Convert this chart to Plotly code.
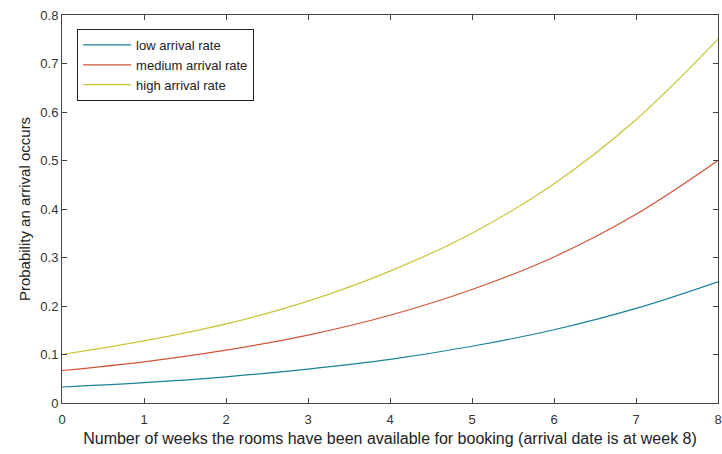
import plotly.graph_objects as go

weeks = [0, 1, 2, 3, 4, 5, 6, 7, 8]
low_rate = [0.033, 0.042, 0.054, 0.070, 0.090, 0.117, 0.151, 0.195, 0.250]
medium_rate = [0.067, 0.085, 0.109, 0.140, 0.181, 0.234, 0.301, 0.389, 0.500]
high_rate = [0.100, 0.128, 0.163, 0.210, 0.272, 0.350, 0.452, 0.584, 0.750]

series_names = ["low arrival rate", "medium arrival rate", "high arrival rate"]
colors = ["#1a8296", "#d0553a", "#c9c43a"]

fig = go.Figure()
for name, vals, c in zip(series_names, [low_rate, medium_rate, high_rate], colors):
    fig.add_trace(go.Scatter(x=weeks, y=vals, mode="lines", name=name,
                             line=dict(color=c, width=1.2, shape="spline")))

axis_common = dict(showgrid=False, zeroline=False, showline=True, linecolor="#444",
                   linewidth=1, mirror="allticks", ticks="inside", ticklen=5,
                   tickcolor="#444", ticklabeloverflow="allow",
                   tickfont=dict(family="Liberation Sans, Arial", size=13, color="#333"))

fig.update_layout(
    width=722, height=454,
    margin=dict(l=62, r=4, t=15, b=51),
    paper_bgcolor="white", plot_bgcolor="white",
    font=dict(family="Liberation Sans, Arial", color="#222"),
    xaxis=dict(range=[0, 8], dtick=1, automargin="height+bottom", ticklabelstandoff=4,
               title=dict(text="Number of weeks the rooms have been available for booking (arrival date is at week 8)",
                          font=dict(size=16, color="#222"), standoff=7),
               **axis_common),
    yaxis=dict(range=[0, 0.8], dtick=0.1, tickformat="~g", automargin="width+left",
               title=dict(text="Probability an arrival occurs", font=dict(size=15, color="#222"), standoff=6),
               **axis_common),
    legend=dict(x=0.023, y=0.964, xanchor="left", yanchor="top",
                bgcolor="white", bordercolor="#222", borderwidth=1,
                font=dict(size=13, color="#222"), tracegroupgap=0,
                itemwidth=48),
    showlegend=True,
)

# remove the browser's default 8px body margin so the figure fills the window
fig.write_html("out.html", config={"displayModeBar": False},
               post_script="document.body.style.margin='0';document.body.style.overflow='hidden';")
